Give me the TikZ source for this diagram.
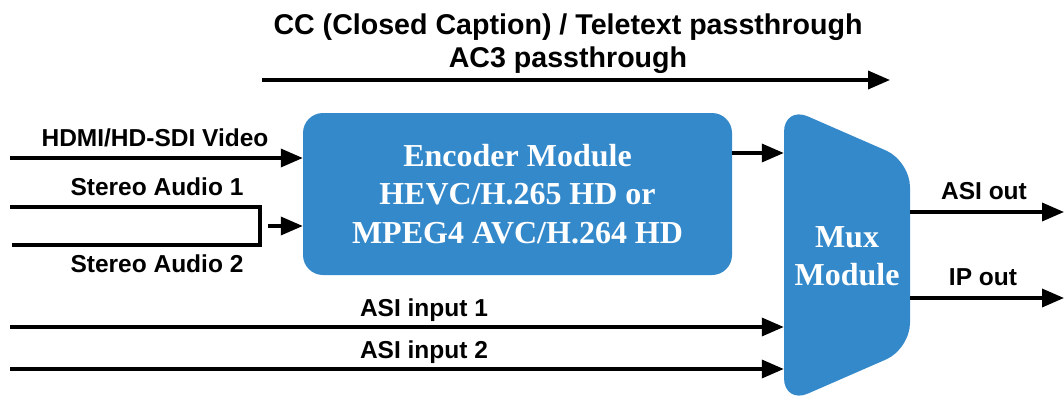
\documentclass[tikz,border=0pt]{standalone}
\usepackage{fontspec}
\setmainfont{Liberation Serif}
\setsansfont{Liberation Sans}
\usepackage{tikz}
\usetikzlibrary{arrows.meta,positioning,calc}

\definecolor{modblue}{RGB}{52,137,203}

\tikzset{
  sig/.style={line width=3.5pt,-{Triangle[length=22pt,width=18pt]}},
  wire/.style={line width=3.5pt},
  lbl/.style={font=\sffamily\bfseries\fontsize{24.5}{28}\selectfont,anchor=base,inner sep=0pt},
  modtext/.style={text=white,font=\rmfamily\bfseries\fontsize{32}{38.5}\selectfont,align=center},
}

\begin{document}
\begin{tikzpicture}[x=1pt,y=-1pt]
	\useasboundingbox (0,0) rectangle (1064,404);
	% modules
	\node[modtext,fill=modblue,rounded corners=20pt,minimum width=429pt,minimum height=162pt] (enc) at (517.5,194)
		{Encoder Module\\HEVC/H.265 HD or\\MPEG4 AVC/H.264 HD};
	\fill[modblue,rounded corners=26pt] (784,106) -- (910,161) -- (910,349) -- (784,404) -- cycle;
	\node[modtext,minimum width=126pt,minimum height=290pt,inner sep=0pt] (mux) at (847,256) {Mux\\Module};

	% passthrough
	\node[font=\sffamily\bfseries\fontsize{28.6}{33}\selectfont,align=center] (pass) at (568,44)
		{CC (Closed Caption) / Teletext passthrough\\AC3 passthrough};
	\coordinate (ptin) at (262,80);
	\coordinate (ptout) at (890,80);
	\draw[sig] (ptin) -- (ptout);

	% inputs
	\coordinate (hdmi) at (10,158);
	\coordinate (aud1) at (10,207);
	\coordinate (aud2) at (12,245);
	\coordinate (join) at (260,207);
	\coordinate (audin) at (268,226);
	\coordinate (asi1) at (10,327);
	\coordinate (asi2) at (10,369);
	\draw[sig] (hdmi) -- (hdmi -| enc.west);
	\draw[wire] (aud1) -- (join) -- (join |- aud2) -- (aud2);
	\draw[sig] (audin) -- (audin -| enc.west);
	\draw[sig] (enc.east |- 0,153) -- (mux.west |- 0,153);
	\draw[sig] (asi1) -- (asi1 -| mux.west);
	\draw[sig] (asi2) -- (asi2 -| mux.west);

	% outputs
	\coordinate (asiout) at (1064,212);
	\coordinate (ipout) at (1064,298);
	\draw[sig] (mux.east |- asiout) -- (asiout);
	\draw[sig] (mux.east |- ipout) -- (ipout);

	% labels
	\node[lbl] (lhdmi) at (155,146) {HDMI/HD-SDI Video};
	\node[lbl] (laud1) at (157,195) {Stereo Audio 1};
	\node[lbl] (laud2) at (157,272) {Stereo Audio 2};
	\node[lbl] (lasi1) at (424,316) {ASI input 1};
	\node[lbl] (lasi2) at (424,358) {ASI input 2};
	\node[lbl] (lasiout) at (984,199) {ASI out};
	\node[lbl] (lipout) at (983,285) {IP out};
\end{tikzpicture}
\end{document}
